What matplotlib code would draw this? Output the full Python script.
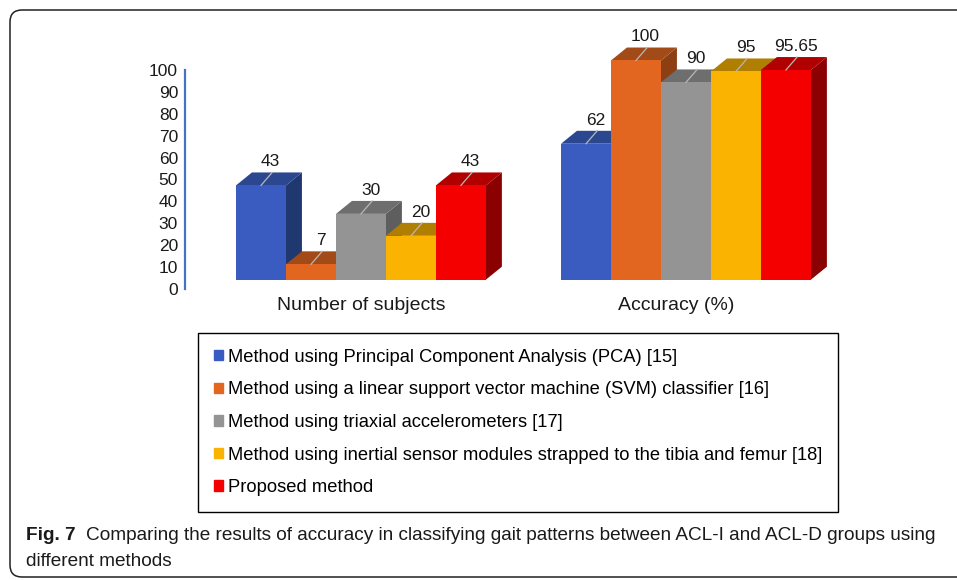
import matplotlib
matplotlib.use('Agg')
import matplotlib.pyplot as plt
import matplotlib.patches as mpatches
from matplotlib import font_manager
from matplotlib.transforms import IdentityTransform

# data
groups = ['Number of subjects', 'Accuracy (%)']
methods = ['Method using Principal Component Analysis (PCA) [15]',
           'Method using a linear support vector machine (SVM) classifier [16]',
           'Method using triaxial accelerometers [17]',
           'Method using inertial sensor modules strapped to the tibia and femur [18]',
           'Proposed method']
subjects = [43, 7, 30, 20, 43]
accuracy = [62, 100, 90, 95, 95.65]
yticks = list(range(0, 101, 10))

front_colors = ['#3A5BC0', '#E2661F', '#949494', '#F9B300', '#F40000']
top_colors = ['#2A4790', '#A24A18', '#6E6E6E', '#B07E00', '#B00000']
side_colors = ['#1F3870', '#8B3F12', '#5E5E5E', '#9A6E00', '#8B0000']

fonts = {f.name for f in font_manager.fontManager.ttflist}
sans = 'Liberation Sans' if 'Liberation Sans' in fonts else 'DejaVu Sans'
narrow = 'Liberation Sans Narrow' if 'Liberation Sans Narrow' in fonts else sans

W, H = 957, 580
fig = plt.figure(figsize=(W / 100, H / 100), dpi=100)
renderer = fig.canvas.get_renderer()


def text_width(s, size, family, weight='normal'):
    t = fig.text(0, 0, s, fontsize=size, family=family, weight=weight)
    w = t.get_window_extent(renderer).width
    t.remove()
    return w


# axes: value 0 at y=289px, 100 at y=70px
ax = fig.add_axes([185 / W, 1 - 300 / H, 675 / W, 263 / H])
ax.set_xlim(-0.5415, 1.5354)
ax.set_ylim(-5, 115)

bw = 0.1538      # bar width (group units)
base = 4.3       # 3d floor
dx, dy = 0.049, 5.9

for g, vals in enumerate([subjects, accuracy]):
    for i, v in enumerate(vals):
        x0 = g + (i - 2) * bw - bw / 2
        x1 = x0 + bw
        top = base + v
        z = 2 + i * 3
        ax.bar(x0, v, width=bw, bottom=base, align='edge',
               color=front_colors[i], linewidth=0, zorder=z + 2)
        ax.add_patch(mpatches.Polygon(
            [(x1, base), (x1 + dx, base + dy), (x1 + dx, top + dy), (x1, top)],
            closed=True, facecolor=side_colors[i], linewidth=0, zorder=z))
        ax.add_patch(mpatches.Polygon(
            [(x0, top), (x1, top), (x1 + dx, top + dy), (x0 + dx, top + dy)],
            closed=True, facecolor=top_colors[i], linewidth=0, zorder=z + 1))
        xc = x0 + bw / 2
        ax.plot([xc, xc + 0.7 * dx], [top, top + dy], color='#B8B8B8',
                lw=0.9, zorder=z + 2.5)
        ax.text(xc + 0.6 * dx, top + dy + 1.5, '{:g}'.format(v),
                ha='center', va='bottom', fontsize=12.5, family=sans,
                color='#1a1a1a', zorder=30)

for g, name in enumerate(groups):
    ax.text(g - 0.03 * g, -7.5, name, ha='center', va='center',
            fontsize=14, family=sans, color='#1a1a1a')

for s in ['top', 'right', 'bottom']:
    ax.spines[s].set_visible(False)
ax.spines['left'].set_bounds(0, 100)
ax.spines['left'].set_color('#4472C4')
ax.spines['left'].set_linewidth(1.6)
ax.set_yticks(yticks)
ax.set_xticks([])
ax.tick_params(axis='y', length=0, pad=5, labelsize=12.5, labelcolor='#1a1a1a')
for lab in ax.get_yticklabels():
    lab.set_family(sans)
ax.patch.set_alpha(0)

# legend
leg_size = 12 * 597 / text_width(methods[3], 12, narrow)
handles = [mpatches.Patch(color=c) for c in front_colors]
leg = fig.legend(handles, methods, loc='upper left',
                 bbox_to_anchor=(198 / W, 1 - 333 / H), borderaxespad=0,
                 fancybox=False, edgecolor='black', framealpha=1,
                 handlelength=0.5, handleheight=0.5, handletextpad=0.3,
                 labelspacing=0.85, borderpad=0.85,
                 prop={'family': narrow, 'size': leg_size})
leg.get_frame().set_linewidth(1.0)

# caption
cap_rest = ('Comparing the results of accuracy in classifying gait patterns '
            'between ACL-I and ACL-D groups using')
cap_size = 12 * 916 / (text_width('Fig. 7  ', 12, narrow, 'bold')
                       + text_width(cap_rest, 12, narrow))
t = fig.text(26 / W, 1 - 535 / H, 'Fig. 7  ', fontsize=cap_size, family=narrow,
             weight='bold', va='center', color='#1a1a1a')
x_after = 26 + t.get_window_extent(renderer).width
fig.text(x_after / W, 1 - 535 / H, cap_rest, fontsize=cap_size, family=narrow,
         va='center', color='#1a1a1a')
fig.text(26 / W, 1 - 562 / H, 'different methods', fontsize=cap_size,
         family=narrow, va='center', color='#1a1a1a')

# outer rounded border
fig.add_artist(mpatches.FancyBboxPatch(
    (10, 3), 1000, 567, boxstyle='round,pad=0,rounding_size=12',
    transform=IdentityTransform(), facecolor='none', edgecolor='#222222',
    linewidth=1.1))

fig.savefig('out.png', dpi=100)
